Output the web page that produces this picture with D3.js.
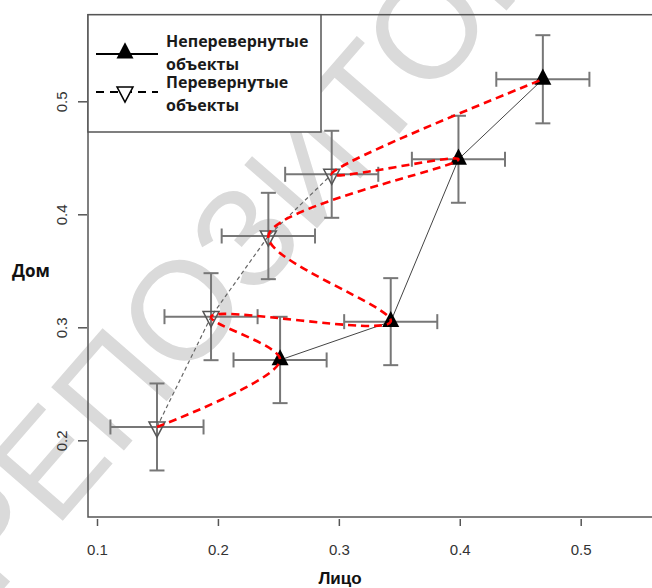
<!DOCTYPE html>
<html>
<head>
<meta charset="utf-8">
<title>Лицо / Дом</title>
<script src="https://d3js.org/d3.v7.min.js"></script>
<style>
  body { margin: 0; background: #fff; }
</style>
</head>
<body>
<script>
    var w = 652, h = 588;

    // upright objects (filled triangles)
    var uprightX = [0.2514, 0.3429, 0.3989, 0.4687];
    var uprightY = [0.2711, 0.3050, 0.4487, 0.5195];
    var uprightErrX = [0.0385, 0.0385, 0.0385, 0.0385];
    var uprightErrY = [0.0382, 0.0385, 0.0385, 0.0390];

    // inverted objects (open triangles)
    var invertedX = [0.1496, 0.1943, 0.2417, 0.2941];
    var invertedY = [0.2118, 0.3094, 0.3808, 0.4354];
    var invertedErrX = [0.0385, 0.0385, 0.0386, 0.0385];
    var invertedErrY = [0.0385, 0.0385, 0.0382, 0.0385];

    var xTicks = [0.1, 0.2, 0.3, 0.4, 0.5];
    var yTicks = [0.2, 0.3, 0.4, 0.5];
    var legendLabels = [["Неперевернутые", "объекты"], ["Перевернутые", "объекты"]];

    var x = d3.scaleLinear().domain([0.1, 0.5]).range([97, 580.7]);
    var y = d3.scaleLinear().domain([0.2, 0.5]).range([440.3, 101.3]);

    var svg = d3.select("body").append("svg").attr("width", w).attr("height", h);

    // watermark
    svg.append("text")
        .text("РЕПОЗИТОРИЙ")
        .attr("transform", "translate(-6,600) rotate(-49)")
        .attr("font-family", "Liberation Sans, Arial, sans-serif")
        .attr("font-size", 140)
        .attr("fill", "#dadada");

    // plot box
    svg.append("rect")
        .attr("x", 88).attr("y", 14.7)
        .attr("width", 700).attr("height", 517 - 14.7)
        .attr("fill", "none").attr("stroke", "#555").attr("stroke-width", 1.5);

    // axes
    var xAxis = svg.append("g")
        .attr("transform", "translate(0,519)")
        .call(d3.axisBottom(x).tickValues(xTicks).tickSize(7).tickPadding(18).tickFormat(d3.format(".1f")));
    xAxis.select(".domain").remove();
    xAxis.selectAll("line").attr("stroke", "#555").attr("stroke-width", 1.5);
    xAxis.selectAll("text")
        .attr("font-family", "Liberation Sans, Arial, sans-serif")
        .attr("font-size", 15).attr("fill", "#333");

    var yAxis = svg.append("g")
        .attr("transform", "translate(87,0)")
        .call(d3.axisLeft(y).tickValues(yTicks).tickSize(9).tickFormat(d3.format(".1f")));
    yAxis.select(".domain").remove();
    yAxis.selectAll("line").attr("stroke", "#555").attr("stroke-width", 1.5);
    yAxis.selectAll("text")
        .attr("x", null).attr("dy", null)
        .attr("text-anchor", "middle")
        .attr("transform", "translate(-20,0) rotate(-90)")
        .attr("font-family", "Liberation Sans, Arial, sans-serif")
        .attr("font-size", 15).attr("fill", "#333");

    svg.append("text").text("Лицо")
        .attr("x", 340).attr("y", 584)
        .attr("text-anchor", "middle")
        .attr("font-family", "Liberation Sans, Arial, sans-serif")
        .attr("font-weight", "bold").attr("font-size", 17).attr("fill", "#111");

    svg.append("text").text("Дом")
        .attr("x", 12).attr("y", 277)
        .attr("font-family", "Open Sans, sans-serif")
        .attr("font-weight", "bold").attr("font-size", 17).attr("fill", "#111");

    var upright = uprightX.map(function (d, i) {
        return { x: d, y: uprightY[i], ex: uprightErrX[i], ey: uprightErrY[i] };
    });
    var inverted = invertedX.map(function (d, i) {
        return { x: d, y: invertedY[i], ex: invertedErrX[i], ey: invertedErrY[i] };
    });

    // connecting lines
    var line = d3.line().x(function (d) { return x(d.x); }).y(function (d) { return y(d.y); });
    svg.append("path").attr("d", line(upright))
        .attr("fill", "none").attr("stroke", "#444").attr("stroke-width", 1);
    svg.append("path").attr("d", line(inverted))
        .attr("fill", "none").attr("stroke", "#666").attr("stroke-width", 1.2)
        .attr("stroke-dasharray", "4,3");

    // error bars
    function errorBars(data) {
        var g = svg.append("g").attr("stroke", "#777").attr("stroke-width", 2);
        var cap = 7.5;
        data.forEach(function (d) {
            var cx = x(d.x), cy = y(d.y);
            var x0 = x(d.x - d.ex), x1 = x(d.x + d.ex);
            var y0 = y(d.y - d.ey), y1 = y(d.y + d.ey);
            g.append("line").attr("x1", x0).attr("x2", x1).attr("y1", cy).attr("y2", cy);
            g.append("line").attr("x1", x0).attr("x2", x0).attr("y1", cy - cap).attr("y2", cy + cap);
            g.append("line").attr("x1", x1).attr("x2", x1).attr("y1", cy - cap).attr("y2", cy + cap);
            g.append("line").attr("x1", cx).attr("x2", cx).attr("y1", y0).attr("y2", y1);
            g.append("line").attr("x1", cx - cap).attr("x2", cx + cap).attr("y1", y0).attr("y2", y0);
            g.append("line").attr("x1", cx - cap).attr("x2", cx + cap).attr("y1", y1).attr("y2", y1);
        });
    }
    errorBars(upright);
    errorBars(inverted);

    function triUp(cx, cy, s) {
        var hh = s * 0.95;
        return "M" + cx + "," + (cy - 2 * hh / 3) + "L" + (cx + s / 2) + "," + (cy + hh / 3) +
            "L" + (cx - s / 2) + "," + (cy + hh / 3) + "Z";
    }
    function triDown(cx, cy, s) {
        var hh = s * 0.95;
        return "M" + cx + "," + (cy + 2 * hh / 3) + "L" + (cx + s / 2) + "," + (cy - hh / 3) +
            "L" + (cx - s / 2) + "," + (cy - hh / 3) + "Z";
    }

    svg.selectAll(".up").data(upright).enter().append("path")
        .attr("class", "up")
        .attr("d", function (d) { return triUp(x(d.x), y(d.y), 17); })
        .attr("fill", "#000");
    svg.selectAll(".down").data(inverted).enter().append("path")
        .attr("class", "down")
        .attr("d", function (d) { return triDown(x(d.x), y(d.y), 16); })
        .attr("fill", "none").attr("stroke", "#555").attr("stroke-width", 1.5);

    // red zig-zag curve: inverted -> upright -> inverted ...
    var zig = [];
    inverted.forEach(function (d, i) { zig.push(d); zig.push(upright[i]); });
    var curve = d3.line()
        .x(function (d) { return x(d.x); })
        .y(function (d) { return y(d.y); })
        .curve(d3.curveCatmullRom.alpha(0.5));
    svg.append("path").attr("d", curve(zig))
        .attr("fill", "none").attr("stroke", "#ff0000").attr("stroke-width", 2.6)
        .attr("stroke-dasharray", "8,5");

    // legend
    var lg = svg.append("g");
    lg.append("rect")
        .attr("x", 88).attr("y", 14.7).attr("width", 233).attr("height", 132 - 14.7)
        .attr("fill", "#fff").attr("stroke", "#555").attr("stroke-width", 1.5);
    lg.append("line").attr("x1", 96).attr("x2", 158).attr("y1", 54).attr("y2", 54)
        .attr("stroke", "#000").attr("stroke-width", 2);
    lg.append("path").attr("d", triUp(125, 53, 17)).attr("fill", "#000");
    lg.append("line").attr("x1", 96).attr("x2", 158).attr("y1", 92).attr("y2", 92)
        .attr("stroke", "#000").attr("stroke-width", 2).attr("stroke-dasharray", "8,6");
    lg.append("path").attr("d", triDown(125, 92, 16))
        .attr("fill", "#fff").attr("stroke", "#000").attr("stroke-width", 1.5);

    var ly = [[47, 70], [88, 111]];
    legendLabels.forEach(function (lines, i) {
        lines.forEach(function (t, j) {
            lg.append("text").text(t)
                .attr("x", 166).attr("y", ly[i][j])
                .attr("font-family", "Open Sans, sans-serif")
                .attr("font-weight", "bold").attr("font-size", 16).attr("fill", "#1a1a1a");
        });
    });
</script>
</body>
</html>
